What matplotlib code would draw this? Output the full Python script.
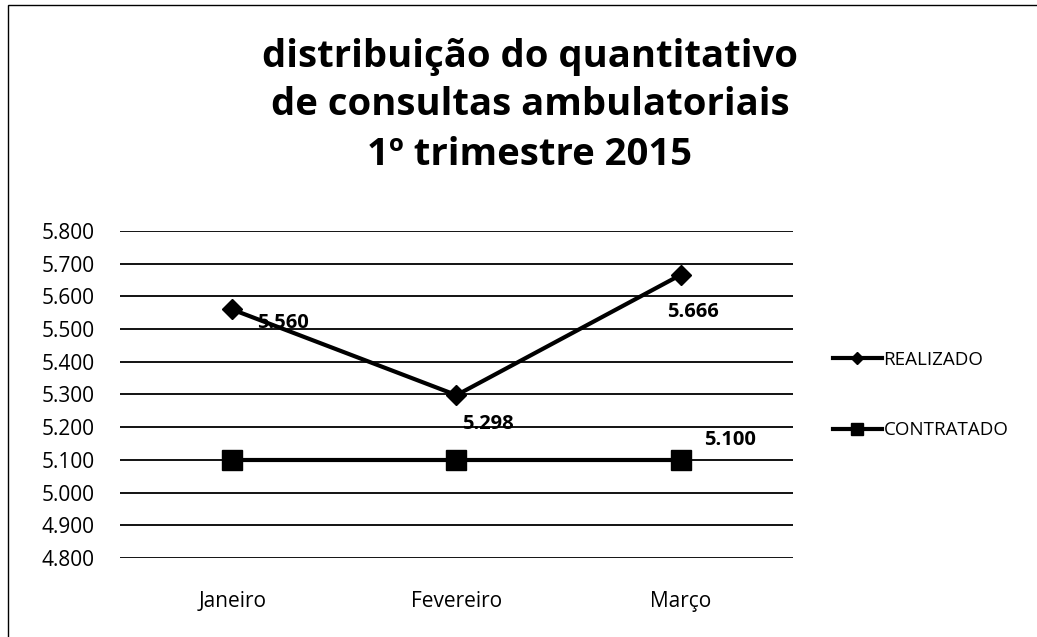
import matplotlib.pyplot as plt
from matplotlib.lines import Line2D
from matplotlib.patches import Rectangle

# Data
meses = ["Janeiro", "Fevereiro", "Março"]
realizado = [5560, 5298, 5666]
contratado = [5100, 5100, 5100]
yticks = [4800, 4900, 5000, 5100, 5200, 5300, 5400, 5500, 5600, 5700, 5800]
titulo = ["distribuição do quantitativo", "de consultas ambulatoriais", "1º trimestre 2015"]


def fmt(v):
    return f"{v:,.0f}".replace(",", ".")


plt.rcParams['font.family'] = ['Open Sans', 'DejaVu Sans']

fig = plt.figure(figsize=(10.37, 6.37), dpi=100)
ax = fig.add_axes([0.1157, 0.124, 0.649, 0.5134])

x = range(len(meses))
ax.plot(x, realizado, color="black", lw=3, marker="D", ms=10, label="REALIZADO")
ax.plot(x, contratado, color="black", lw=3, marker="s", ms=14, label="CONTRATADO")

ax.set_xlim(-0.5, 2.5)
ax.set_ylim(4800, 5800)
ax.set_yticks(yticks)
ax.set_yticklabels([fmt(v) for v in yticks], fontsize=15)
ax.set_xticks(list(x))
ax.set_xticklabels(meses, fontsize=15)
ax.tick_params(length=0)
ax.tick_params(axis="y", pad=18)
ax.tick_params(axis="x", pad=24)
ax.grid(axis="y", color="black", lw=1.3)
ax.set_axisbelow(True)
for s in ax.spines.values():
    s.set_visible(False)

# data labels
offsets_r = [(18, -10), (4, -21), (-10, -27)]
for i, (v, off) in enumerate(zip(realizado, offsets_r)):
    ax.annotate(fmt(v), (i, v), xytext=off, textcoords="offset points",
                fontsize=14.5, fontweight="bold", ha="left", va="center")
ax.annotate(fmt(contratado[2]), (2, contratado[2]), xytext=(17, 14),
            textcoords="offset points", fontsize=14.5, fontweight="bold",
            ha="left", va="center")

for txt, yb in zip(titulo, [0.895, 0.819, 0.741]):
    fig.text(0.511, yb, txt, ha="center", va="baseline", fontsize=27.5, fontweight="bold")

handles = [Line2D([], [], color="black", lw=3, marker="D", ms=6),
           Line2D([], [], color="black", lw=3, marker="s", ms=9)]
fig.legend(handles, ["REALIZADO", "CONTRATADO"], loc="center left",
           bbox_to_anchor=(0.787, 0.38), frameon=False, fontsize=13.5,
           handlelength=2.6, handletextpad=0.1, labelspacing=2.8)

# page frame (left and top edges of the scanned border)
fig.add_artist(Rectangle((0.008, -0.1), 1.2, 1.092, transform=fig.transFigure,
                         fill=False, ec="black", lw=1))

fig.savefig("out.png", dpi=100)
